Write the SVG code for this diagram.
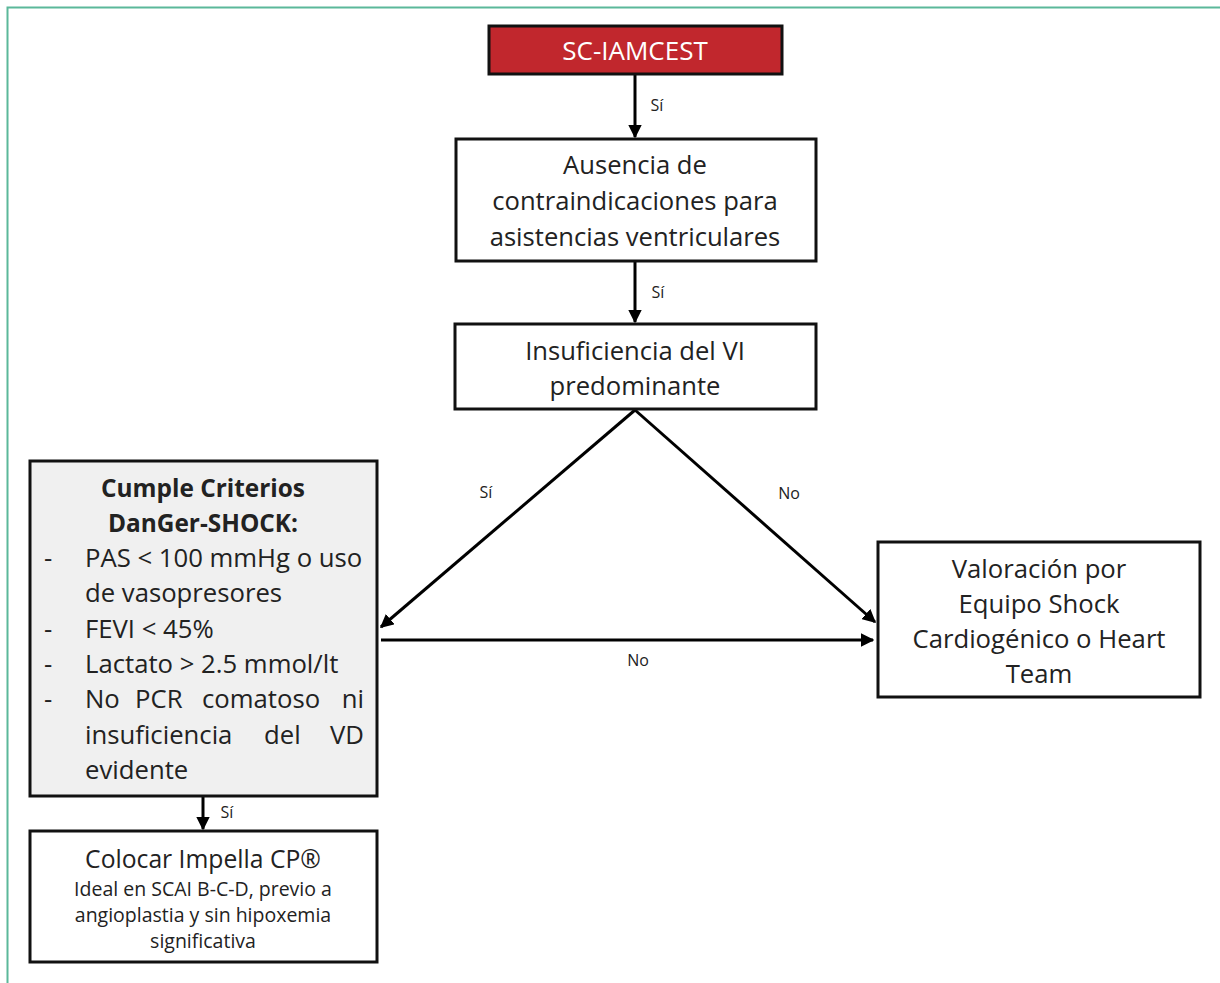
<svg xmlns="http://www.w3.org/2000/svg" width="1220" height="983" viewBox="0 0 1220 983">
<defs>
<style>
.box{fill:#fff;stroke:#111;stroke-width:3}
.t{font-family:"Open Sans","Liberation Sans",sans-serif;fill:#222;text-anchor:middle;dominant-baseline:central}
.l{font-family:"Open Sans","Liberation Sans",sans-serif;fill:#222;dominant-baseline:central;font-size:25.7px}
.c{stroke:#000;stroke-width:3;fill:none}
.lab{font-family:"Open Sans","Liberation Sans",sans-serif;fill:#222;font-size:16px;text-anchor:middle;dominant-baseline:central}
</style>
<marker id="ah" viewBox="0 0 10 10" refX="9" refY="5" markerWidth="4.5" markerHeight="4.5" orient="auto" markerUnits="strokeWidth">
<path d="M0,0 L10,5 L0,10 z" fill="#000"/>
</marker>
</defs>
<rect width="1220" height="983" fill="#fff"/>
<path d="M7.5,983 V7.5 H1220" fill="none" stroke="#5bb89a" stroke-width="2"/>

<g id="connectors">
<line class="c" x1="635" y1="74" x2="635" y2="137" marker-end="url(#ah)"/>
<text class="lab" x="657" y="105">Sí</text>
<line class="c" x1="635" y1="261" x2="635" y2="322" marker-end="url(#ah)"/>
<text class="lab" x="658" y="292">Sí</text>
<line class="c" x1="635" y1="410" x2="381" y2="627" marker-end="url(#ah)"/>
<text class="lab" x="486" y="492">Sí</text>
<line class="c" x1="635" y1="410" x2="875" y2="622" marker-end="url(#ah)"/>
<text class="lab" x="789" y="493">No</text>
<line class="c" x1="381" y1="640" x2="873" y2="640" marker-end="url(#ah)"/>
<text class="lab" x="638" y="660">No</text>
<line class="c" x1="203" y1="796" x2="203" y2="829" marker-end="url(#ah)"/>
<text class="lab" x="227" y="812">Sí</text>
</g>

<g id="n1">
<rect x="489" y="26" width="293" height="48" fill="#c1272d" stroke="#111" stroke-width="3"/>
<text class="t" x="635" y="50" font-size="26" style="fill:#fff">SC-IAMCEST</text>
</g>

<g id="n2">
<rect class="box" x="456" y="139" width="360" height="122"/>
<text class="t" x="635" y="164" font-size="25.6">Ausencia de</text>
<text class="t" x="635" y="200" font-size="25.6">contraindicaciones para</text>
<text class="t" x="635" y="236" font-size="25.6">asistencias ventriculares</text>
</g>

<g id="n3">
<rect class="box" x="455" y="324" width="361" height="85"/>
<text class="t" x="635" y="350" font-size="25.6">Insuficiencia del VI</text>
<text class="t" x="635" y="385" font-size="25.6">predominante</text>
</g>

<g id="n4">
<rect x="30" y="461" width="347" height="335" fill="#f0f0f0" stroke="#111" stroke-width="3"/>
<text class="t" x="203" y="487" font-size="24.4" font-weight="bold">Cumple Criterios</text>
<text class="t" x="203" y="522" font-size="24.4" font-weight="bold">DanGer-SHOCK:</text>
<text class="l" x="44" y="557">-</text>
<text class="l" x="85" y="557">PAS &lt; 100 mmHg o uso</text>
<text class="l" x="85" y="592">de vasopresores</text>
<text class="l" x="44" y="628">-</text>
<text class="l" x="85" y="628">FEVI &lt; 45%</text>
<text class="l" x="44" y="663">-</text>
<text class="l" x="85" y="663">Lactato &gt; 2.5 mmol/lt</text>
<text class="l" x="44" y="698">-</text>
<text class="l" x="85" y="698">No</text>
<text class="l" x="135" y="698">PCR</text>
<text class="l" x="202" y="698">comatoso</text>
<text class="l" x="364" y="698" text-anchor="end">ni</text>
<text class="l" x="85" y="734">insuficiencia</text>
<text class="l" x="264" y="734">del</text>
<text class="l" x="364" y="734" text-anchor="end">VD</text>
<text class="l" x="85" y="769">evidente</text>
</g>

<g id="n5">
<rect class="box" x="30" y="831" width="347" height="131"/>
<text class="t" x="203" y="858" font-size="24.7">Colocar Impella CP®</text>
<text class="t" x="203" y="888" font-size="19.5">Ideal en SCAI B-C-D, previo a</text>
<text class="t" x="203" y="914" font-size="19.5">angioplastia y sin hipoxemia</text>
<text class="t" x="203" y="940" font-size="19.5">significativa</text>
</g>

<g id="n6">
<rect class="box" x="878" y="542" width="322" height="155"/>
<text class="t" x="1039" y="568" font-size="25.7">Valoración por</text>
<text class="t" x="1039" y="603" font-size="25.7">Equipo Shock</text>
<text class="t" x="1039" y="638" font-size="25.7">Cardiogénico o Heart</text>
<text class="t" x="1039" y="673" font-size="25.7">Team</text>
</g>
</svg>
